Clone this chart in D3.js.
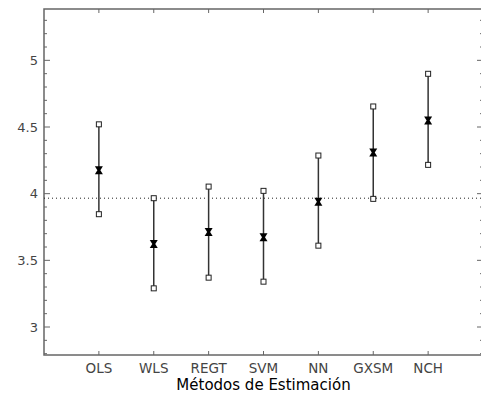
<!DOCTYPE html>
<html><head><meta charset="utf-8">
<script src="https://cdn.jsdelivr.net/npm/d3@7"></script>
<style>body{margin:0;background:#fff}</style>
</head><body>
<svg id="c" width="481" height="399"></svg>
<script>
const categories = ["OLS","WLS","REGT","SVM","NN","GXSM","NCH"];
const means = [4.176, 3.623, 3.713, 3.673, 3.940, 4.309, 4.549];
const upper = [4.520, 3.966, 4.053, 4.021, 4.286, 4.654, 4.899];
const lower = [3.846, 3.290, 3.370, 3.340, 3.610, 3.961, 4.216];
const refLine = 3.966;
const yMajorTicks = [3, 3.5, 4, 4.5, 5];
const xTitle = "Métodos de Estimación";

const svg = d3.select("#c");
const L = 44, R = 483, T = 9, B = 355;
const x = d3.scaleLinear().domain([0, 8]).range([L, R]);
const y = d3.scaleLinear().domain([2.79, 5.385]).range([B, T]);
const axisColor = "#666";
const font = "DejaVu Sans, Verdana, sans-serif";

const minor = d3.range(28, 54).map(v => v / 10).filter(v => v > y.domain()[0] && v < y.domain()[1]);
const g = svg.append("g");
g.selectAll(".mn").data(minor).join("line")
  .attr("x1", L).attr("x2", d => L + (yMajorTicks.some(t => Math.abs(t - d) < 1e-6) ? 6 : 3))
  .attr("y1", d => y(d)).attr("y2", d => y(d))
  .attr("stroke", axisColor).attr("stroke-width", 1);
g.selectAll(".mnr").data(minor).join("line")
  .attr("x1", R).attr("x2", d => R - (yMajorTicks.some(t => Math.abs(t - d) < 1e-6) ? 6 : 3))
  .attr("y1", d => y(d)).attr("y2", d => y(d))
  .attr("stroke", axisColor).attr("stroke-width", 1);
g.selectAll(".yl").data(yMajorTicks).join("text")
  .attr("x", L - 6).attr("y", d => y(d)).attr("dy", "0.35em")
  .attr("text-anchor", "end").attr("font-family", font).attr("font-size", 13)
  .attr("fill", "#444").text(d => d);

const xi = categories.map((c, i) => i + 1);
g.selectAll(".xt").data(xi).join("line")
  .attr("x1", d => x(d)).attr("x2", d => x(d)).attr("y1", B).attr("y2", B - 4)
  .attr("stroke", axisColor).attr("stroke-width", 1);
g.selectAll(".xtt").data(xi).join("line")
  .attr("x1", d => x(d)).attr("x2", d => x(d)).attr("y1", T).attr("y2", T + 4)
  .attr("stroke", axisColor).attr("stroke-width", 1);
g.selectAll(".xl").data(categories).join("text")
  .attr("x", (d, i) => x(i + 1)).attr("y", B + 18)
  .attr("text-anchor", "middle").attr("font-family", font).attr("font-size", 13.5)
  .attr("fill", "#444").text(d => d);
svg.append("text").attr("x", x(4)).attr("y", 390)
  .attr("text-anchor", "middle").attr("font-family", font).attr("font-size", 15)
  .attr("fill", "#000").text(xTitle);

svg.append("rect").attr("x", L).attr("y", T).attr("width", R - L).attr("height", B - T)
  .attr("fill", "none").attr("stroke", axisColor).attr("stroke-width", 1.5);

svg.append("line").attr("x1", L).attr("x2", R).attr("y1", y(refLine)).attr("y2", y(refLine))
  .attr("stroke", "#222").attr("stroke-width", 1).attr("stroke-dasharray", "1,3");

const eb = svg.append("g");
eb.selectAll(".v").data(categories).join("line")
  .attr("x1", (d, i) => x(i + 1)).attr("x2", (d, i) => x(i + 1))
  .attr("y1", (d, i) => y(upper[i])).attr("y2", (d, i) => y(lower[i]))
  .attr("stroke", "#333").attr("stroke-width", 1.5);
const sq = 5;
["u", "l"].forEach(k => {
  const arr = k === "u" ? upper : lower;
  eb.selectAll(".s" + k).data(categories).join("rect")
    .attr("x", (d, i) => x(i + 1) - sq / 2).attr("y", (d, i) => y(arr[i]) - sq / 2)
    .attr("width", sq).attr("height", sq)
    .attr("fill", "#fff").attr("stroke", "#222").attr("stroke-width", 1);
});
const hg = "M-4,-4L4,-4L1.5,0L4,4L-4,4L-1.5,0Z";
eb.selectAll(".m").data(categories).join("path")
  .attr("transform", (d, i) => `translate(${x(i + 1)},${y(means[i])})`)
  .attr("d", hg).attr("fill", "#000");
</script>
</body></html>
